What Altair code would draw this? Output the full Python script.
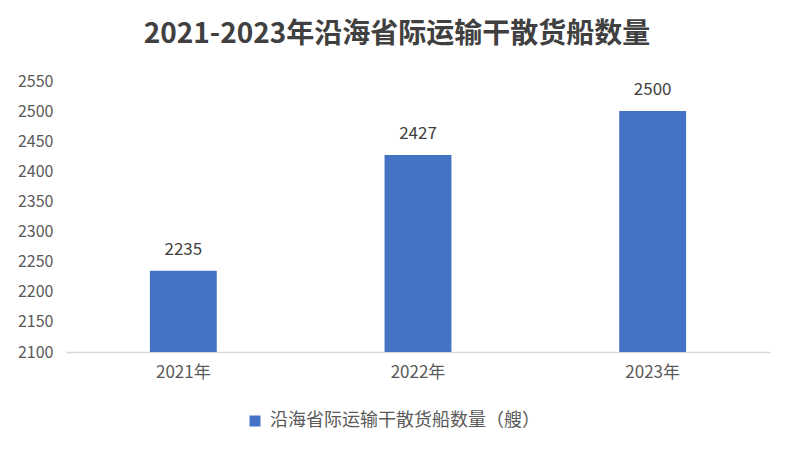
import altair as alt
import pandas as pd

years = ["2021年", "2022年", "2023年"]
counts = [2235, 2427, 2500]
series_name = "沿海省际运输干散货船数量（艘）"
y_ticks = [2100, 2150, 2200, 2250, 2300, 2350, 2400, 2450, 2500, 2550]
title_text = "2021-2023年沿海省际运输干散货船数量"

df = pd.DataFrame({"year": years, "count": counts, "series": [series_name] * len(years)})

FONT = "Noto Sans CJK SC"

base = alt.Chart(df).encode(
    x=alt.X("year:N", sort=years, title=None,
            scale=alt.Scale(paddingInner=0.715, paddingOuter=0.3575),
            axis=alt.Axis(labelAngle=0, ticks=False, domainColor="#d9d9d9", domainWidth=1.5,
                          labelFontSize=17, labelColor="#595959", labelFont=FONT, labelPadding=12)),
    y=alt.Y("count:Q", title=None,
            scale=alt.Scale(domain=[2100, 2550], nice=False, zero=False),
            axis=alt.Axis(values=y_ticks, grid=False, domain=False, ticks=False, format="d",
                          labelFontSize=16, labelColor="#595959", labelFont=FONT, labelPadding=13)),
)

bars = base.mark_bar(clip=True).encode(
    color=alt.Color("series:N", title=None,
                    scale=alt.Scale(range=["#4472C4"]),
                    legend=alt.Legend(orient="none", legendX=180, legendY=331, symbolType="square",
                                      symbolSize=121, symbolStrokeWidth=0, labelFontSize=18,
                                      labelColor="#595959", labelFont=FONT, padding=0,
                                      labelLimit=500, labelOffset=6))
)

labels = base.mark_text(baseline="bottom", dy=-12, fontSize=17, font=FONT, color="#404040").encode(
    text=alt.Text("count:Q", format="d")
)

chart = (bars + labels).properties(
    width=704, height=271,
    autosize=alt.AutoSizeParams(type="none"),
    padding={"left": 58, "top": 73, "right": 16, "bottom": 92},
    title=alt.TitleParams(title_text, anchor="middle", dx=-21, offset=24, fontSize=28,
                          font=FONT, fontWeight="bold", color="#404040"),
).configure_view(stroke=None)

chart.save("out.html", embed_options={"renderer": "svg", "actions": False})
